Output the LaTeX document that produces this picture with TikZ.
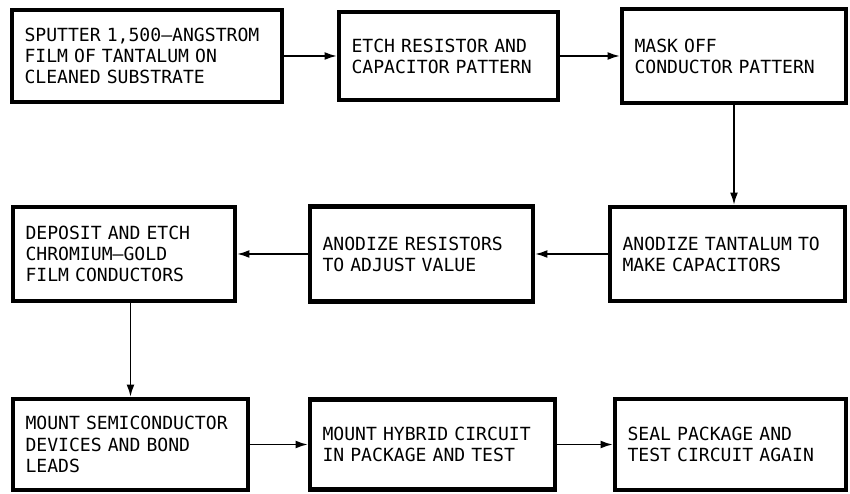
\documentclass[tikz,border=0pt]{standalone}
\usepackage{fontspec}
\newfontfamily\leroyfont{DejaVu Sans Mono}
\usetikzlibrary{arrows.meta,positioning}
\begin{document}
\begin{tikzpicture}[font=\leroyfont\fontsize{10.3}{12}\selectfont,stage/.style={draw,line width=2.4pt,align=left,inner xsep=2.5mm,inner ysep=0pt,outer sep=0pt},flow/.style={-{Latex[length=7pt,width=4.5pt]},line width=1pt,shorten >=1.2pt}]
\useasboundingbox (0,0) rectangle (17,9.88);
\node[stage,text width=4.9cm,minimum height=1.84cm,anchor=north west] (b1) at (0.24,9.68) {SPUTTER 1,500\textendash ANGSTROM\\FILM OF TANTALUM ON\\CLEANED SUBSTRATE};
\node[stage,text width=3.88cm,minimum height=1.76cm,right=1.14cm of b1] (b2) {ETCH RESISTOR AND\\CAPACITOR PATTERN};
\node[stage,text width=3.98cm,minimum height=1.88cm,right=1.28cm of b2] (b3) {MASK OFF\\CONDUCTOR PATTERN};
\node[stage,text width=3.94cm,minimum height=1.88cm,below=2.1cm of b1.south west,anchor=north west,xshift=0.02cm] (b4) {DEPOSIT AND ETCH\\CHROMIUM\textendash GOLD\\FILM CONDUCTORS};
\node[stage,text width=3.96cm,minimum height=1.9cm,right=1.5cm of b4] (b5) {ANODIZE RESISTORS\\TO ADJUST VALUE};
\node[stage,text width=4.2cm,minimum height=1.88cm,right=1.54cm of b5] (b6) {ANODIZE TANTALUM TO\\MAKE CAPACITORS};
\node[stage,text width=4.2cm,minimum height=1.82cm,below=1.96cm of b4.south west,anchor=north west] (b7) {MOUNT SEMICONDUCTOR\\DEVICES AND BOND\\LEADS};
\node[stage,text width=4.4cm,minimum height=1.8cm,right=1.24cm of b7] (b8) {MOUNT HYBRID CIRCUIT\\IN PACKAGE AND TEST};
\node[stage,text width=4.12cm,minimum height=1.82cm,right=1.2cm of b8] (b9) {SEAL PACKAGE AND\\TEST CIRCUIT AGAIN};
\foreach \s/\t/\a/\b in {b1/b2/east/west,b2/b3/east/west,b6/b5/west/east,b5/b4/west/east,b7/b8/east/west,b8/b9/east/west}\draw[flow] (\s.\a)--(\s.\a -| \t.\b);
\draw[flow] (b3.south)--(b3.south |- b6.north);
\draw[flow] (b4.south -| b7.north)--(b7.north);
\end{tikzpicture}
\end{document}
